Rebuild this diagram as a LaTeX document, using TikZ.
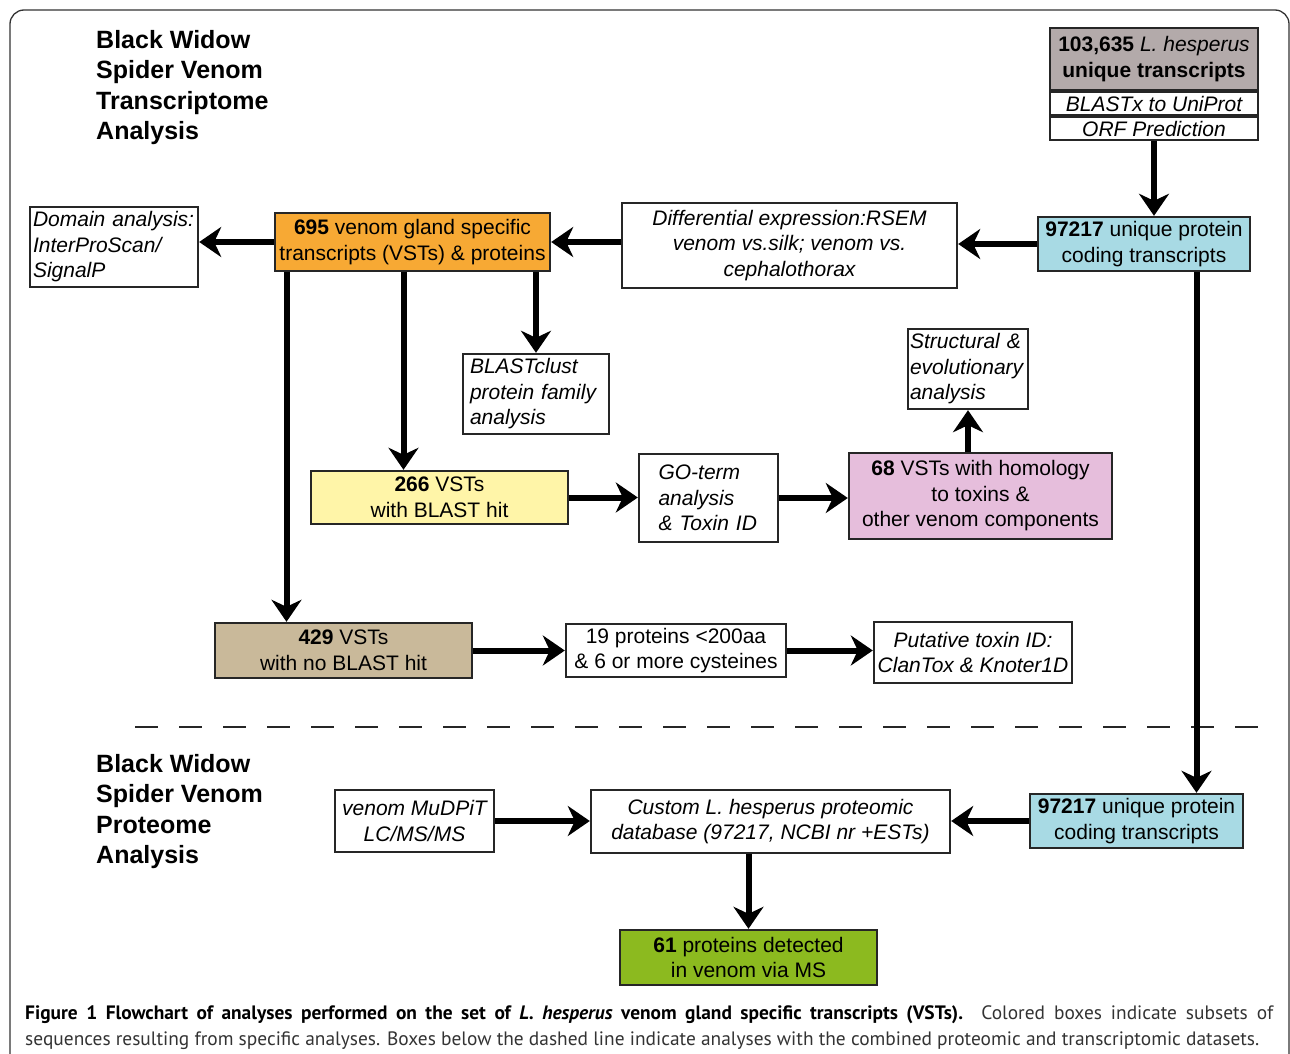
\documentclass[tikz,border=0pt]{standalone}
\usepackage{fontspec}
\setmainfont{Liberation Sans}
\newfontfamily\capfont{PT Sans}
\usetikzlibrary{arrows.meta}

\definecolor{rawgray}{RGB}{179,170,170}
\definecolor{codeblue}{RGB}{168,218,228}
\definecolor{vstorange}{RGB}{247,169,52}
\definecolor{hityellow}{RGB}{255,245,168}
\definecolor{toxpink}{RGB}{230,190,220}
\definecolor{nohittan}{RGB}{201,185,154}
\definecolor{msgreen}{RGB}{140,186,31}

\begin{document}
\begin{tikzpicture}[x=1pt,y=-1pt,
    box/.style={draw=black!85, line width=1.4pt, inner sep=2pt, align=center,
        font=\fontsize{21}{25.5}\selectfont},
    note/.style={box, font=\fontsize{21}{25.5}\selectfont\itshape},
    flow/.style={-{Stealth[length=22pt,width=30pt,inset=7pt]}, line width=6pt, shorten >=0.5pt},
    heading/.style={anchor=north west, inner sep=0pt, align=left,
        font=\fontsize{25}{30.5}\selectfont\bfseries}]

    \useasboundingbox (0,0) rectangle (1290,1054);

    % outer frame and divider
    \draw[line width=1.3pt, black!80, rounded corners=14pt] (10,1070) -- (10,10) -- (1289,10) -- (1289,1070);
    \coordinate (dl) at (135,727);
    \coordinate (dr) at (1275,727);
    \draw[line width=2pt, black!85, dash pattern=on 23pt off 21pt] (dl) -- (dr);

    \node[heading] (tr) at (96,30) {Black Widow\\Spider Venom\\Transcriptome\\Analysis};
    \node[heading] (pr) at (96,754) {Black Widow\\Spider Venom\\Proteome\\Analysis};

    % transcriptome part
    \node[box, fill=rawgray, minimum width=208, minimum height=62] (raw) at (1154,59)
        {\textbf{103,635} \textit{L. hesperus}\\\textbf{unique transcripts}};
    \node[note, inner sep=0pt, minimum width=208, minimum height=23] (blx) at (1154,103.5) {BLASTx to UniProt};
    \node[note, inner sep=0pt, minimum width=208, minimum height=23] (orf) at (1154,128.5) {ORF Prediction};
    \node[box, fill=codeblue, minimum width=212, minimum height=54] (cds) at (1144,244)
        {\textbf{97217} unique protein\\coding transcripts};
    \node[note, minimum width=335, minimum height=85] (dex) at (789.5,245.5)
        {Differential expression:RSEM\\venom vs.silk; venom vs.\\cephalothorax};
    \node[box, fill=vstorange, minimum width=275, minimum height=58] (vst) at (412.5,242)
        {\textbf{695} venom gland specific\\transcripts (VSTs) \& proteins};
    \node[note, align=left, inner xsep=3pt, text width=162, minimum height=80] (dom) at (114,247)
        {Domain analysis:\\InterProScan/\\SignalP};
    \node[note, align=left, inner xsep=7pt, text width=132, minimum height=80] (clu) at (536,394)
        {BLASTclust\\protein family\\analysis};
    \node[box, fill=hityellow, minimum width=257, minimum height=53] (hit) at (439.5,497.5)
        {\textbf{266} VSTs\\with BLAST hit};
    \node[note, align=left, inner xsep=19.5pt, text width=100, minimum height=88] (got) at (708.5,498)
        {GO-term\\analysis\\\& Toxin ID};
    \node[box, fill=toxpink, minimum width=263, minimum height=86] (tox) at (980.5,496)
        {\textbf{68} VSTs with homology\\to toxins \&\\other venom components};
    \node[note, align=left, inner xsep=2pt, text width=116, minimum height=80] (evo) at (968,369)
        {Structural \&\\evolutionary\\analysis};
    \node[box, fill=nohittan, minimum width=257, minimum height=55] (nhit) at (343.5,650.5)
        {\textbf{429} VSTs\\with no BLAST hit};
    \node[box, minimum width=220, minimum height=53] (cys) at (676,650.5)
        {19 proteins <200aa\\\& 6 or more cysteines};
    \node[note, minimum width=198, minimum height=61] (put) at (973,652.5)
        {Putative toxin ID:\\ClanTox \& Knoter1D};

    % proteome part
    \node[box, fill=codeblue, minimum width=213, minimum height=54] (cds2) at (1136.5,821)
        {\textbf{97217} unique protein\\coding transcripts};
    \node[note, minimum width=359, minimum height=63] (db) at (770.5,821.5)
        {Custom L. hesperus proteomic\\database (97217, NCBI nr +ESTs)};
    \node[note, minimum width=159, minimum height=62] (mud) at (414.5,821)
        {venom MuDPiT\\LC/MS/MS};
    \node[box, fill=msgreen, minimum width=257, minimum height=55] (det) at (748.5,957.5)
        {\textbf{61} proteins detected\\in venom via MS};

    \coordinate (hitin) at ([xshift=-36pt]hit.north);
    \coordinate (nhitin) at ([xshift=-57pt]nhit.north);
    \coordinate (cdsin) at ([xshift=60pt]cds2.north);

    \path[flow]
    (orf.south) edge (orf.south |- cds.north)
    (cds.west) edge (cds.west -| dex.east)
    (dex.west |- vst.east) edge (vst.east)
    (vst.west) edge (vst.west -| dom.east)
    (clu.north |- vst.south) edge (clu.north)
    (hitin |- vst.south) edge (hitin)
    (nhitin |- vst.south) edge (nhitin)
    (hit.east) edge (hit.east -| got.west)
    (got.east) edge (got.east -| tox.west)
    (evo.south |- tox.north) edge (evo.south)
    (nhit.east) edge (nhit.east -| cys.west)
    (cys.east) edge (cys.east -| put.west)
    (cdsin |- cds.south) edge (cdsin)
    (cds2.west) edge (cds2.west -| db.east)
    (mud.east) edge (mud.east -| db.west)
    (det.north |- db.south) edge (det.north);

    % caption
    \node[anchor=north west, inner sep=0pt, align=left, font=\capfont\fontsize{19.4}{26}\selectfont] (cap) at (25,1005)
        {\makebox[1248pt][s]{\textbf{Figure 1 Flowchart of analyses performed on the set of \textit{L. hesperus} venom gland specific transcripts (VSTs).} \textcolor{black!80}{Colored boxes indicate subsets of}}\\
        \textcolor{black!80}{sequences resulting from specific analyses. Boxes below the dashed line indicate analyses with the combined proteomic and transcriptomic datasets.}};

\end{tikzpicture}
\end{document}
